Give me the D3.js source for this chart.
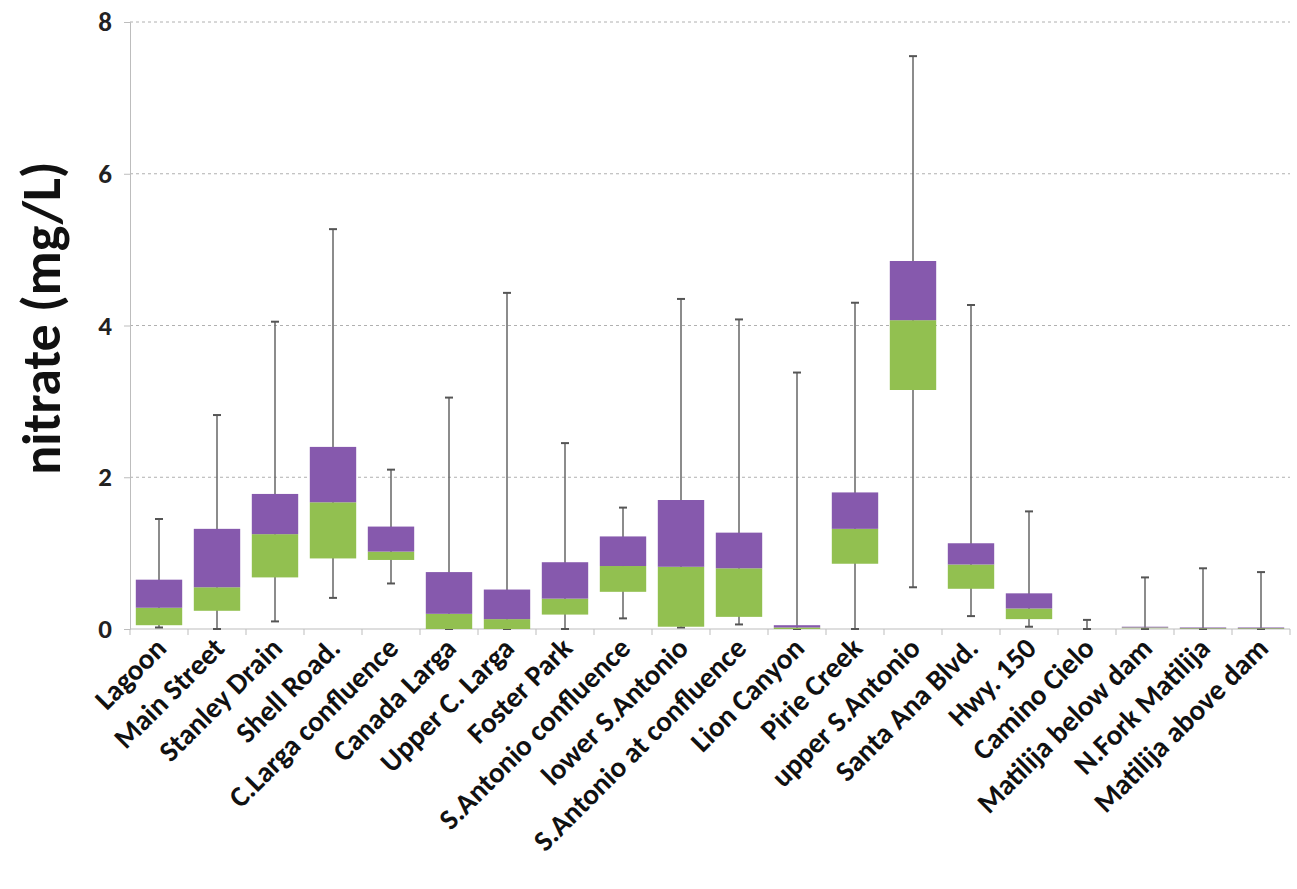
<!DOCTYPE html><html><head><meta charset="utf-8"><script src="https://cdn.jsdelivr.net/npm/d3@7"></script>
<style>body{margin:0;background:#fff}text{font-family:Calibri,Carlito,"Liberation Sans",Arial,sans-serif}</style></head><body><svg id="c" width="1297" height="889"></svg><script>
const categories=["Lagoon","Main Street","Stanley Drain","Shell Road.","C.Larga confluence","Canada Larga","Upper C. Larga","Foster Park","S.Antonio confluence","lower S.Antonio","S.Antonio at confluence","Lion Canyon","Pirie Creek","upper S.Antonio","Santa Ana Blvd.","Hwy. 150","Camino Cielo","Matilija below dam","N.Fork Matilija","Matilija above dam"];
const minV=[0.02,0,0.1,0.41,0.6,0,0,0,0.14,0.02,0.06,0,0,0.55,0.17,0.03,0,0,0,0];
const q1V=[0.05,0.24,0.68,0.93,0.91,0,0,0.19,0.49,0.03,0.16,0,0.86,3.15,0.53,0.13,0,0.01,0,0];
const medV=[0.28,0.55,1.25,1.67,1.02,0.2,0.13,0.4,0.83,0.82,0.8,0.02,1.32,4.07,0.85,0.27,0,0.02,0.01,0.01];
const q3V=[0.65,1.32,1.78,2.4,1.35,0.75,0.52,0.88,1.22,1.7,1.27,0.05,1.8,4.85,1.13,0.47,0,0.03,0.02,0.02];
const maxV=[1.45,2.82,4.05,5.27,2.1,3.05,4.43,2.45,1.6,4.35,4.08,3.38,4.3,7.55,4.27,1.55,0.12,0.68,0.8,0.75];
const yTicks=[0,2,4,6,8];
const svg=d3.select("#c");
const x=d3.scaleBand().domain(categories).range([130,1290]).paddingInner(0.2).paddingOuter(0.1);
const y=d3.scaleLinear().domain([0,8]).range([629,22]);
const g=svg.append("g");
g.selectAll(".grid").data(yTicks.filter(d=>d>0)).join("line").attr("x1",130).attr("x2",1290).attr("y1",y).attr("y2",y).attr("stroke","#b0b0b0").attr("stroke-dasharray","3,3");
const ya=svg.append("g").attr("transform","translate(130,0)").call(d3.axisLeft(y).tickValues(yTicks).tickSize(6).tickFormat(d3.format("d")));
ya.select(".domain").attr("stroke","#bdbdbd");ya.selectAll(".tick line").attr("stroke","#bdbdbd");
ya.selectAll("text").attr("font-size",27).attr("font-weight","bold").attr("fill","#222").attr("x",-18);
const step=x.step();
const xa=svg.append("g").attr("transform","translate(0,629)");
xa.append("line").attr("x1",130).attr("x2",1290).attr("stroke","#bdbdbd");
xa.selectAll(".t").data(d3.range(categories.length+1)).join("line").attr("x1",i=>130+i*step).attr("x2",i=>130+i*step).attr("y2",6).attr("stroke","#bdbdbd");
categories.forEach((c,i)=>{const cx=x(c)+x.bandwidth()/2;
 const bg=svg.append("g");
 bg.append("line").attr("x1",cx).attr("x2",cx).attr("y1",y(maxV[i])).attr("y2",y(minV[i])).attr("stroke","#666").attr("stroke-width",1.5);
 [maxV[i],minV[i]].forEach(v=>bg.append("line").attr("x1",cx-4).attr("x2",cx+4).attr("y1",y(v)).attr("y2",y(v)).attr("stroke","#555").attr("stroke-width",2));
 bg.append("rect").attr("x",x(c)).attr("width",x.bandwidth()).attr("y",y(medV[i])).attr("height",y(q1V[i])-y(medV[i])).attr("fill","#92c050");
 bg.append("rect").attr("x",x(c)).attr("width",x.bandwidth()).attr("y",y(q3V[i])).attr("height",y(medV[i])-y(q3V[i])).attr("fill","#8659ad");
 svg.append("text").attr("transform",`translate(${cx+9},${650}) rotate(-45)`).attr("text-anchor","end").attr("font-size",29).attr("font-weight","bold").attr("fill","#111").text(c);
});
svg.append("text").attr("transform","translate(60,318) rotate(-90)").attr("text-anchor","middle").attr("font-size",54).attr("font-weight","bold").attr("fill","#111").text("nitrate (mg/L)");
</script></body></html>
